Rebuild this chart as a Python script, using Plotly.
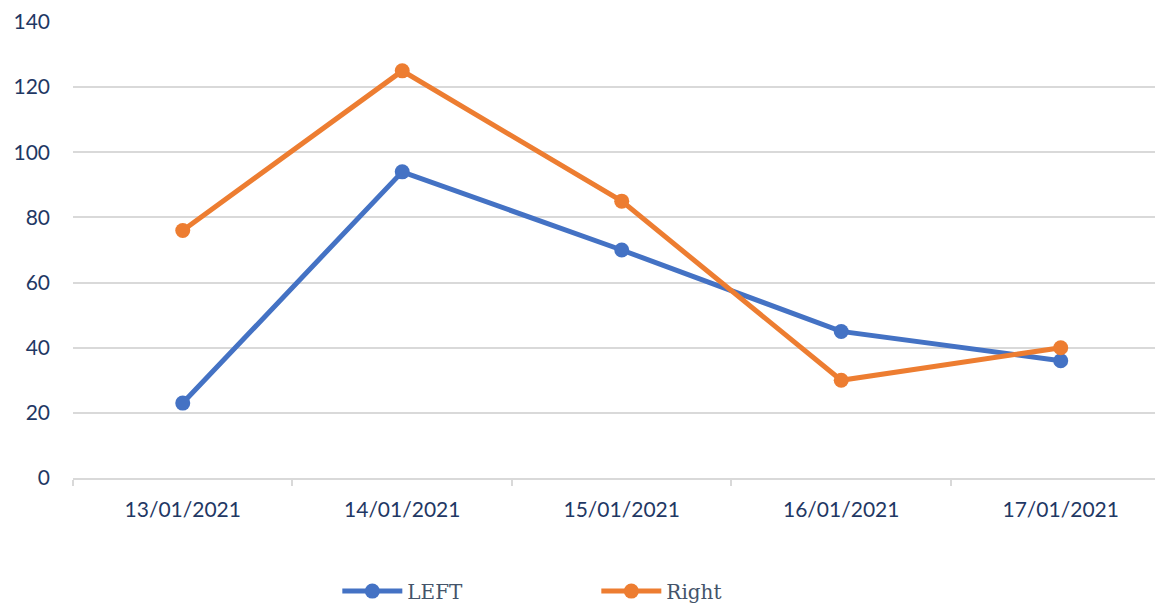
import plotly.graph_objects as go

dates = ["13/01/2021", "14/01/2021", "15/01/2021", "16/01/2021", "17/01/2021"]
left_vals = [23, 94, 70, 45, 36]
right_vals = [76, 125, 85, 30, 40]
y_ticks = [0, 20, 40, 60, 80, 100, 120, 140]

fig = go.Figure()
fig.add_trace(go.Scatter(x=dates, y=left_vals, name="LEFT", mode="lines+markers",
                         line=dict(color="#4472C4", width=5),
                         marker=dict(color="#4472C4", size=15)))
fig.add_trace(go.Scatter(x=dates, y=right_vals, name="Right", mode="lines+markers",
                         line=dict(color="#ED7D31", width=5),
                         marker=dict(color="#ED7D31", size=15)))

fig.update_layout(
    width=1155, height=597,
    margin=dict(l=65, r=0, t=14, b=127, autoexpand=False),
    plot_bgcolor="white", paper_bgcolor="white",
    font=dict(family="Lato, Carlito, sans-serif", size=21, color="#1F3864"),
    showlegend=True,
    legend=dict(orientation="h", x=0.2425, y=-0.248, xanchor="left", yanchor="middle",
                font=dict(family="DejaVu Serif, serif", size=20, color="#44546A"),
                entrywidth=184, entrywidthmode="pixels", itemwidth=60),
    xaxis=dict(type="category", range=[-0.5, 4.466], showgrid=False, automargin=False,
               showline=True, linecolor="#D9D9D9", linewidth=1.5,
               ticks="outside", tickson="boundaries", ticklen=6, tickcolor="#D9D9D9",
               tickwidth=1.5, ticklabelstandoff=12),
    yaxis=dict(range=[0, 140], tickvals=y_ticks, showgrid=True, gridcolor="#D9D9D9",
               gridwidth=1.5, zeroline=False, showline=False, ticks="", automargin=False,
               ticklabelstandoff=22),
)

fig.write_html("out.html")
